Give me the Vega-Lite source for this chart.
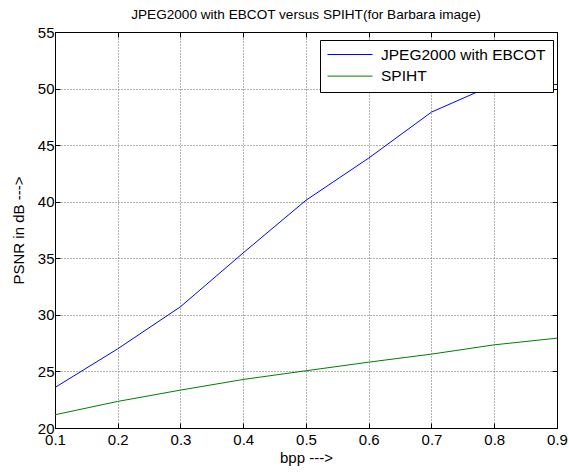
{
  "$schema": "https://vega.github.io/schema/vega-lite/v6.json",
  "autosize": {"type": "none"},
  "padding": {"left": 55, "top": 32, "right": 12, "bottom": 44},
  "width": 502,
  "height": 396,
  "background": "white",
  "config": {
    "font": "Liberation Sans",
    "view": {"stroke": "black", "strokeWidth": 1},
    "axis": {"labelFont": "Liberation Sans", "titleFont": "Liberation Sans", "labelColor": "black", "titleColor": "black", "titleFontWeight": "normal"}
  },
  "title": {"text": "JPEG2000 with EBCOT versus SPIHT(for Barbara image)", "fontSize": 13.6, "fontWeight": "normal", "font": "Liberation Sans", "color": "black", "offset": 3, "anchor": "middle"},
  "data": {"values": [
    {"bpp": 0.1, "psnr": 23.58, "series": "JPEG2000 with EBCOT"},
    {"bpp": 0.2, "psnr": 27.0, "series": "JPEG2000 with EBCOT"},
    {"bpp": 0.3, "psnr": 30.72, "series": "JPEG2000 with EBCOT"},
    {"bpp": 0.4, "psnr": 35.48, "series": "JPEG2000 with EBCOT"},
    {"bpp": 0.5, "psnr": 40.13, "series": "JPEG2000 with EBCOT"},
    {"bpp": 0.6, "psnr": 43.86, "series": "JPEG2000 with EBCOT"},
    {"bpp": 0.7, "psnr": 47.92, "series": "JPEG2000 with EBCOT"},
    {"bpp": 0.8, "psnr": 50.36, "series": "JPEG2000 with EBCOT"},
    {"bpp": 0.9, "psnr": 50.36, "series": "JPEG2000 with EBCOT"},
    {"bpp": 0.1, "psnr": 21.17, "series": "SPIHT"},
    {"bpp": 0.2, "psnr": 22.35, "series": "SPIHT"},
    {"bpp": 0.3, "psnr": 23.35, "series": "SPIHT"},
    {"bpp": 0.4, "psnr": 24.29, "series": "SPIHT"},
    {"bpp": 0.5, "psnr": 25.06, "series": "SPIHT"},
    {"bpp": 0.6, "psnr": 25.82, "series": "SPIHT"},
    {"bpp": 0.7, "psnr": 26.53, "series": "SPIHT"},
    {"bpp": 0.8, "psnr": 27.35, "series": "SPIHT"},
    {"bpp": 0.9, "psnr": 27.94, "series": "SPIHT"}
  ]},
  "resolve": {"axis": {"x": "independent", "y": "independent"}},
  "layer": [
    {
      "mark": {"type": "line", "strokeWidth": 1},
      "encoding": {
        "x": {"field": "bpp", "type": "quantitative", "scale": {"domain": [0.1, 0.9], "nice": false, "zero": false},
          "axis": {"title": "bpp --->", "titleFontSize": 15, "titlePadding": 3, "labelFontSize": 15, "labelPadding": 9, "values": [0.1,0.2,0.3,0.4,0.5,0.6,0.7,0.8,0.9], "format": ".1f", "domainColor": "black", "tickColor": "black", "tickSize": -5, "grid": true, "gridColor": "#666666", "gridDash": [1, 2], "gridWidth": 1, "labelFlush": false}},
        "y": {"field": "psnr", "type": "quantitative", "scale": {"domain": [20, 55], "nice": false, "zero": false},
          "axis": {"title": "PSNR in dB --->", "titleFontSize": 15, "titlePadding": 11, "labelFontSize": 15, "labelPadding": 6, "values": [20,25,30,35,40,45,50,55], "domainColor": "black", "tickColor": "black", "tickSize": -5, "grid": true, "gridColor": "#666666", "gridDash": [1, 2], "gridWidth": 1, "labelFlush": false}},
        "color": {"field": "series", "type": "nominal",
          "scale": {"domain": ["JPEG2000 with EBCOT", "SPIHT"], "range": ["#0000ff", "#008000"]},
          "legend": {"title": null, "orient": "none", "legendX": 265, "legendY": 8, "symbolType": "stroke", "symbolSize": 2025, "symbolStrokeWidth": 1, "clipHeight": 15, "labelFontSize": 15.5, "labelLimit": 400, "labelFont": "Liberation Sans", "labelColor": "black", "strokeColor": "black", "fillColor": "white", "padding": 7, "rowPadding": 5.6, "labelOffset": 8, "offset": 0}}
      }
    },
    {
      "mark": {"type": "point", "opacity": 0},
      "encoding": {
        "x": {"field": "bpp", "type": "quantitative", "scale": {"domain": [0.1, 0.9], "nice": false, "zero": false},
          "axis": {"orient": "top", "title": null, "labels": false, "values": [0.1,0.2,0.3,0.4,0.5,0.6,0.7,0.8,0.9], "domainColor": "black", "tickColor": "black", "tickSize": -5, "grid": false}},
        "y": {"field": "psnr", "type": "quantitative", "scale": {"domain": [20, 55], "nice": false, "zero": false},
          "axis": {"orient": "right", "title": null, "labels": false, "values": [20,25,30,35,40,45,50,55], "domainColor": "black", "tickColor": "black", "tickSize": -5, "grid": false}}
      }
    }
  ]
}
